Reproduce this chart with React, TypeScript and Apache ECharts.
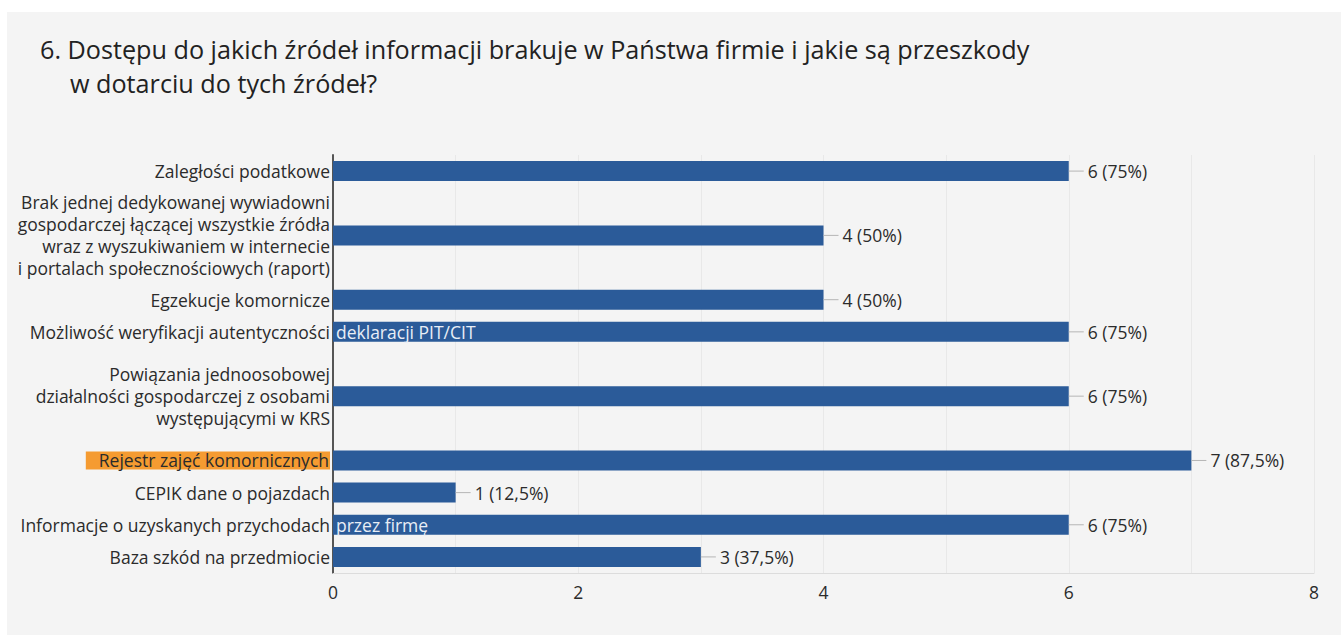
import React, { useEffect, useRef } from 'react';
import * as echarts from 'echarts';

const titleLine1 = '6. Dostępu do jakich źródeł informacji brakuje w Państwa firmie i jakie są przeszkody';
const titleLine2 = 'w dotarciu do tych źródeł?';

const categories = [
  'Zaległości podatkowe',
  'Brak jednej dedykowanej wywiadowni\ngospodarczej łączącej wszystkie źródła\nwraz z wyszukiwaniem w internecie\ni portalach społecznościowych (raport)',
  'Egzekucje komornicze',
  'Możliwość weryfikacji autentyczności',
  'Powiązania jednoosobowej\ndziałalności gospodarczej z osobami\nwystępującymi w KRS',
  'Rejestr zajęć komornicznych',
  'CEPIK dane o pojazdach',
  'Informacje o uzyskanych przychodach',
  'Baza szkód na przedmiocie',
];
const counts = [6, 4, 4, 6, 6, 7, 1, 6, 3];
const respondents = 8;
const overflowText = ['', '', '', 'deklaracji PIT/CIT', '', '', '', 'przez firmę', ''];
const highlighted = 'Rejestr zajęć komornicznych';
// blank rows left after each category (room for multi-line labels)
const spacerAfter = [1, 1, 0, 1, 1, 0, 0, 0, 0];

const FONT = '"Open Sans", "Noto Sans", sans-serif';
const BAR = '#2b5b99';
const TEXT = '#2b2b2b';
const FS = 17.5;

export default function App() {
  const ref = useRef<HTMLDivElement>(null);
  useEffect(() => {
    document.body.style.margin = '0';
    if (!ref.current) return;
    const chart = echarts.init(ref.current, undefined, { renderer: 'svg' });

    const axisCats: string[] = [];
    const vals: (number | null)[] = [];
    const over: string[] = [];
    let sp = 0;
    categories.forEach((c, i) => {
      axisCats.push(c);
      vals.push(counts[i]);
      over.push(overflowText[i]);
      for (let k = 0; k < spacerAfter[i]; k++) {
        sp++;
        axisCats.push(' '.repeat(sp));
        vals.push(null);
        over.push('');
      }
    });

    const pct = (v: number) => {
      const p = (v / respondents) * 100;
      return (Math.round(p * 10) / 10).toString().replace('.', ',');
    };

    chart.setOption({
      animation: false,
      backgroundColor: '#f4f4f4',
      textStyle: { fontFamily: FONT },
      title: [
        {
          text: titleLine1,
          left: 40,
          top: 36,
          padding: 0,
          textStyle: { fontSize: 25.2, fontWeight: 'normal', color: '#222', fontFamily: FONT },
        },
        {
          text: titleLine2,
          left: 70,
          top: 70,
          padding: 0,
          textStyle: { fontSize: 25.2, fontWeight: 'normal', color: '#222', fontFamily: FONT },
        },
      ],
      graphic: [
        { type: 'rect', left: 0, top: 0, shape: { width: 1341, height: 12 }, style: { fill: '#ffffff' }, silent: true },
        { type: 'rect', left: 0, top: 0, shape: { width: 7, height: 635 }, style: { fill: '#ffffff' }, silent: true },
      ],
      grid: { left: 333, right: 27, top: 155, bottom: 62, containLabel: false },
      xAxis: {
        type: 'value',
        min: 0,
        max: 8,
        interval: 1,
        axisLine: { show: true, lineStyle: { color: '#dcdcdc', width: 1 } },
        axisTick: { show: false },
        splitLine: { show: true, lineStyle: { color: '#e8e8e8', width: 1 } },
        axisLabel: {
          fontSize: FS,
          color: TEXT,
          fontFamily: FONT,
          margin: 10,
          formatter: (v: number) => (v % 2 === 0 ? String(v) : ''),
        },
      },
      yAxis: {
        type: 'category',
        inverse: true,
        data: axisCats,
        axisTick: { show: false },
        axisLine: { show: true, lineStyle: { color: '#555', width: 2 } },
        splitLine: { show: false },
        axisLabel: {
          interval: 0,
          fontSize: FS,
          lineHeight: 22,
          color: TEXT,
          fontFamily: FONT,
          margin: 3,
          formatter: (v: string) => (v === highlighted ? `{hl|${v}}` : v),
          rich: {
            hl: {
              backgroundColor: '#f59b31',
              padding: [0, 1, 0, 13],
              fontSize: FS,
              lineHeight: 20,
              color: TEXT,
              fontFamily: FONT,
            },
          },
        },
      },
      series: [
        {
          type: 'bar',
          data: vals,
          barWidth: 20,
          itemStyle: { color: BAR },
          label: {
            show: true,
            position: 'right',
            distance: 0,
            formatter: (p: any) => (p.value == null ? '' : `{ln|}{t|${p.value} (${pct(p.value)}%)}`),
            rich: {
              ln: { width: 15, height: 1, backgroundColor: '#b5b5b5' },
              t: { fontSize: FS, color: TEXT, fontFamily: FONT, padding: [0, 0, 0, 4] },
            },
          },
        },
        {
          type: 'bar',
          data: vals,
          barWidth: 20,
          barGap: '-100%',
          silent: true,
          itemStyle: { color: 'rgba(0,0,0,0)' },
          label: {
            show: true,
            position: 'insideLeft',
            distance: 3,
            fontSize: FS,
            color: '#e8eef6',
            fontFamily: FONT,
            formatter: (p: any) => over[p.dataIndex] || '',
          },
        },
      ],
    });
    return () => chart.dispose();
  }, []);
  return <div ref={ref} style={{ width: 1341, height: 635 }} />;
}
